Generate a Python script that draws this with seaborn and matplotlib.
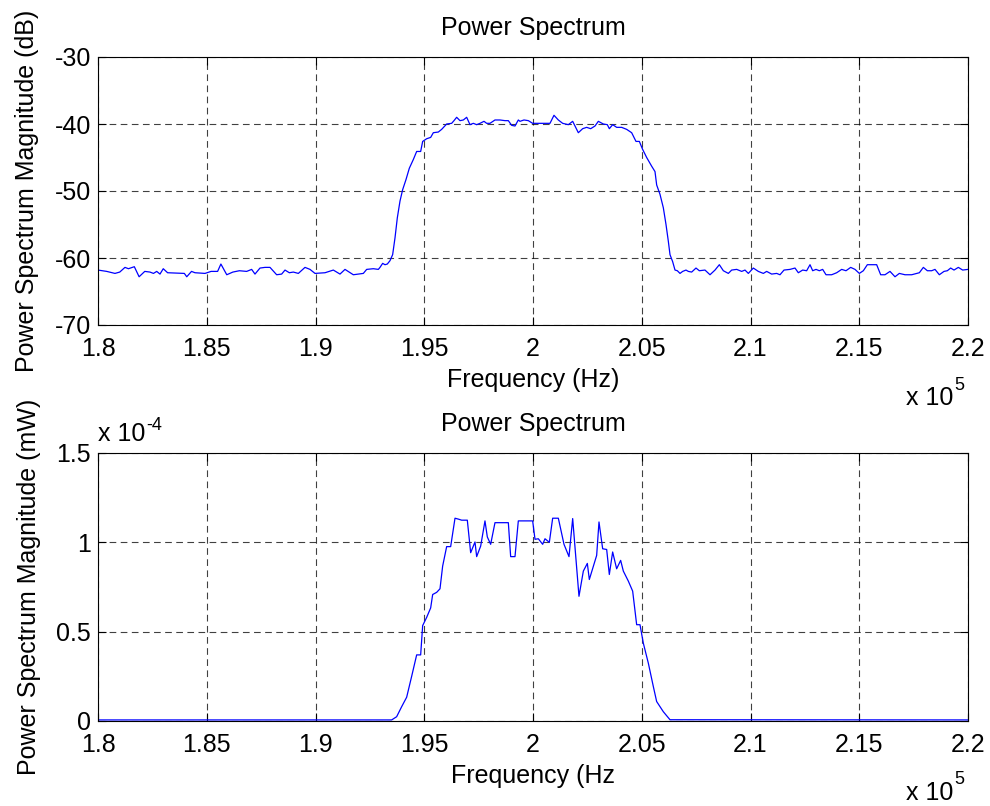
import numpy as np
import pandas as pd
import seaborn as sns
import matplotlib.pyplot as plt
from matplotlib.ticker import FixedLocator

# power spectrum in dB
freq_db = [180000, 180400, 180780, 181000, 181240, 181400, 181670, 181890, 182150, 182390,
           182550, 182700, 182850, 183000, 183200, 183970, 184080, 184300, 184460, 184920,
           185200, 185500, 185650, 185920, 186200, 186500, 186835, 187065, 187218, 187448,
           187678, 187908, 188214, 188444, 188598, 188797, 188981, 189211, 189517, 189747,
           189977, 190437, 190820, 191126, 191356, 191739, 192199, 192353, 192659, 192889,
           192965, 193088, 193195, 193302, 193425, 193547, 193655, 193762, 193885, 194007,
           194160, 194314, 194498, 194651, 194835, 194927, 195111, 195295, 195417, 195647,
           195800, 196030, 196260, 196367, 196490, 196643, 196797, 196950, 197103, 197256,
           197410, 197563, 197747, 197869, 198023, 198252, 198482, 198712, 198866, 199019,
           199172, 199325, 199402, 199586, 199785, 199984, 200781, 200965, 201164, 201364,
           201625, 201824, 202084, 202283, 202467, 202651, 202850, 203004, 203234, 203418,
           203510, 203663, 203847, 204076, 204306, 204536, 204735, 204889, 205042, 205226,
           205456, 205609, 205686, 205839, 205992, 206115, 206222, 206299, 206421, 206529,
           206636, 206759, 206881, 207034, 207142, 207295, 207494, 207647, 207908, 208138,
           208368, 208567, 208751, 208981, 209134, 209364, 209594, 209747, 209900, 210130,
           210360, 210590, 210743, 210973, 211203, 211356, 211540, 211816, 212046, 212199,
           212398, 212582, 212736, 212859, 213012, 213165, 213318, 213472, 213732, 213962,
           214192, 214391, 214606, 214805, 215004, 215188, 215372, 215801, 215985, 216184,
           216414, 216644, 216843, 217104, 217410, 217763, 217947, 218131, 218330, 218483,
           218682, 218897, 219050, 219203, 219357, 219556, 219755, 220000]
power_db = [-61.8, -62.0, -62.3, -62.1, -61.4, -61.6, -61.3, -62.8, -62.0, -62.1,
            -62.3, -62.0, -62.4, -61.6, -62.2, -62.3, -62.8, -62.0, -62.2, -62.3,
            -62.0, -62.0, -60.9, -62.5, -62.1, -61.9, -62.0, -61.7, -62.4, -61.5,
            -61.4, -61.4, -62.5, -62.4, -61.8, -62.2, -62.1, -62.3, -61.4, -61.7,
            -62.3, -62.2, -61.8, -62.4, -61.7, -62.5, -62.3, -61.7, -61.6, -61.7,
            -61.4, -60.8, -61.0, -60.9, -60.4, -59.5, -57.0, -54.0, -51.5, -49.8,
            -48.3, -46.6, -45.3, -44.1, -44.1, -42.6, -42.2, -42.0, -41.3, -41.2,
            -40.8, -40.0, -39.9, -39.5, -39.0, -39.5, -39.4, -39.0, -40.1, -39.9,
            -40.1, -39.9, -39.6, -39.9, -39.9, -39.4, -39.4, -39.5, -39.5, -40.2,
            -40.3, -39.4, -39.6, -39.4, -39.5, -39.9, -39.9, -38.7, -39.4, -39.9,
            -40.1, -39.6, -41.3, -40.7, -40.5, -40.7, -40.3, -39.6, -40.0, -40.1,
            -40.7, -40.1, -40.5, -40.5, -40.8, -41.3, -42.6, -42.6, -43.8, -45.0,
            -46.3, -47.1, -49.1, -50.5, -52.5, -55.0, -57.5, -59.5, -60.55, -61.8,
            -61.9, -62.3, -62.0, -61.8, -62.0, -62.1, -61.5, -61.9, -61.8, -62.5,
            -61.8, -61.0, -61.9, -62.3, -61.8, -61.7, -62.0, -61.8, -62.3, -61.5,
            -62.0, -62.3, -62.0, -62.4, -62.3, -62.5, -61.8, -61.7, -61.5, -62.2,
            -61.8, -61.9, -61.0, -61.9, -61.7, -61.9, -61.7, -62.5, -62.5, -62.2,
            -61.7, -61.9, -61.4, -61.7, -62.3, -61.9, -61.0, -61.0, -62.5, -62.5,
            -62.0, -62.8, -62.3, -62.5, -62.5, -62.2, -61.4, -61.9, -61.9, -61.7,
            -62.5, -62.0, -61.9, -61.5, -61.8, -61.4, -61.8, -61.7]

# power spectrum in mW, in units of 1e-4 (bottom panel)
freq_mw = [180000, 192965, 193501, 193731, 193961, 194191, 194421, 194651, 194835, 194927,
           195111, 195295, 195387, 195570, 195724, 195846, 196030, 196214, 196414, 196567,
           196720, 196980, 197134, 197333, 197410, 197594, 197792, 197900, 198053, 198252,
           198866, 198973, 199172, 199325, 199984, 200092, 200245, 200444, 200552, 200751,
           200904, 201165, 201425, 201655, 201824, 202114, 202314, 202498, 202590, 202927,
           203034, 203203, 203387, 203509, 203662, 203846, 204030, 204153, 204383, 204582,
           204766, 204919, 205072, 205302, 205532, 205685, 205992, 206299, 206759, 220000]
power_mw = [0.006, 0.006, 0.006, 0.024, 0.08, 0.133, 0.25, 0.37, 0.37, 0.534,
            0.58, 0.633, 0.708, 0.72, 0.74, 0.867, 0.976, 0.976, 1.135, 1.13,
            1.124, 1.124, 0.942, 1.002, 0.92, 0.979, 1.12, 1.03, 0.989, 1.11,
            1.11, 0.92, 0.92, 1.12, 1.12, 1.017, 1.02, 0.989, 1.02, 1.0,
            1.135, 1.135, 0.989, 0.92, 1.133, 0.698, 0.839, 0.882, 0.792, 0.927,
            1.114, 0.964, 0.96, 0.82, 0.946, 0.852, 0.899, 0.839, 0.783, 0.727,
            0.539, 0.539, 0.436, 0.324, 0.193, 0.109, 0.052, 0.007, 0.007, 0.006]

x_ticks = [180000, 185000, 190000, 195000, 200000, 205000, 210000, 215000, 220000]
x_tick_labels = ["1.8", "1.85", "1.9", "1.95", "2", "2.05", "2.1", "2.15", "2.2"]

df_db = pd.DataFrame({"freq": freq_db, "power": power_db})
df_mw = pd.DataFrame({"freq": freq_mw, "power": np.array(power_mw) * 1e-4})

sns.set_style("white")
plt.rcParams["font.family"] = ["Liberation Sans", "DejaVu Sans"]
plt.rcParams["axes.unicode_minus"] = False
plt.rcParams["text.color"] = "black"
plt.rcParams["axes.labelcolor"] = "black"
fs = 18

fig = plt.figure(figsize=(9.9, 8.06), dpi=100)
ax1 = fig.add_axes([98 / 990, 1 - 325 / 806, 870 / 990, 268 / 806])
ax2 = fig.add_axes([98 / 990, 1 - 721 / 806, 870 / 990, 268 / 806])


def style_axes(ax):
    ax.set_xlim(180000, 220000)
    ax.xaxis.set_major_locator(FixedLocator(x_ticks))
    ax.set_xticklabels(x_tick_labels)
    ax.grid(True, color="black", linestyle=(0, (6, 4)), linewidth=0.8, alpha=0.75)
    ax.tick_params(direction="in", length=6, width=0.8, labelsize=fs, colors="black",
                   top=True, right=True, bottom=True, left=True)
    ax.tick_params(axis="x", pad=9)
    ax.tick_params(axis="y", pad=5)
    for s in ax.spines.values():
        s.set_visible(True)
        s.set_color("black")
        s.set_linewidth(0.8)


# top: dB
sns.lineplot(data=df_db, x="freq", y="power", ax=ax1, color="blue", linewidth=0.9,
             estimator=None, sort=False)
style_axes(ax1)
ax1.set_ylim(-70, -30)
ax1.set_yticks([-70, -60, -50, -40, -30])
ax1.set_title("Power Spectrum", fontsize=fs, pad=16, color="black")
ax1.set_xlabel("Frequency (Hz)", fontsize=fs, labelpad=5)
ax1.set_ylabel("Power Spectrum Magnitude (dB)", fontsize=fs, labelpad=11)

# bottom: mW
sns.lineplot(data=df_mw, x="freq", y="power", ax=ax2, color="blue", linewidth=0.9,
             estimator=None, sort=False)
style_axes(ax2)
ax2.set_ylim(0, 1.5e-4)
ax2.set_yticks([0, 0.5e-4, 1e-4, 1.5e-4])
ax2.set_yticklabels(["0", "0.5", "1", "1.5"])
ax2.set_title("Power Spectrum", fontsize=fs, pad=16, color="black")
ax2.set_xlabel("Frequency (Hz", fontsize=fs, labelpad=5)
ax2.set_ylabel("Power Spectrum Magnitude (mW)", fontsize=fs, labelpad=11)

# exponent labels like MATLAB (base + small superscript)
for y_base in (398, 793):
    fig.text(906 / 990, 1 - y_base / 806, "x 10", fontsize=fs, ha="left", va="center")
    fig.text(954 / 990, 1 - (y_base - 13) / 806, "5", fontsize=13, ha="left", va="center")
fig.text(98 / 990, 1 - 434 / 806, "x 10", fontsize=fs, ha="left", va="center")
fig.text(146 / 990, 1 - 425 / 806, "-4", fontsize=13, ha="left", va="center")

fig.savefig("out.png", dpi=100, facecolor="white")
